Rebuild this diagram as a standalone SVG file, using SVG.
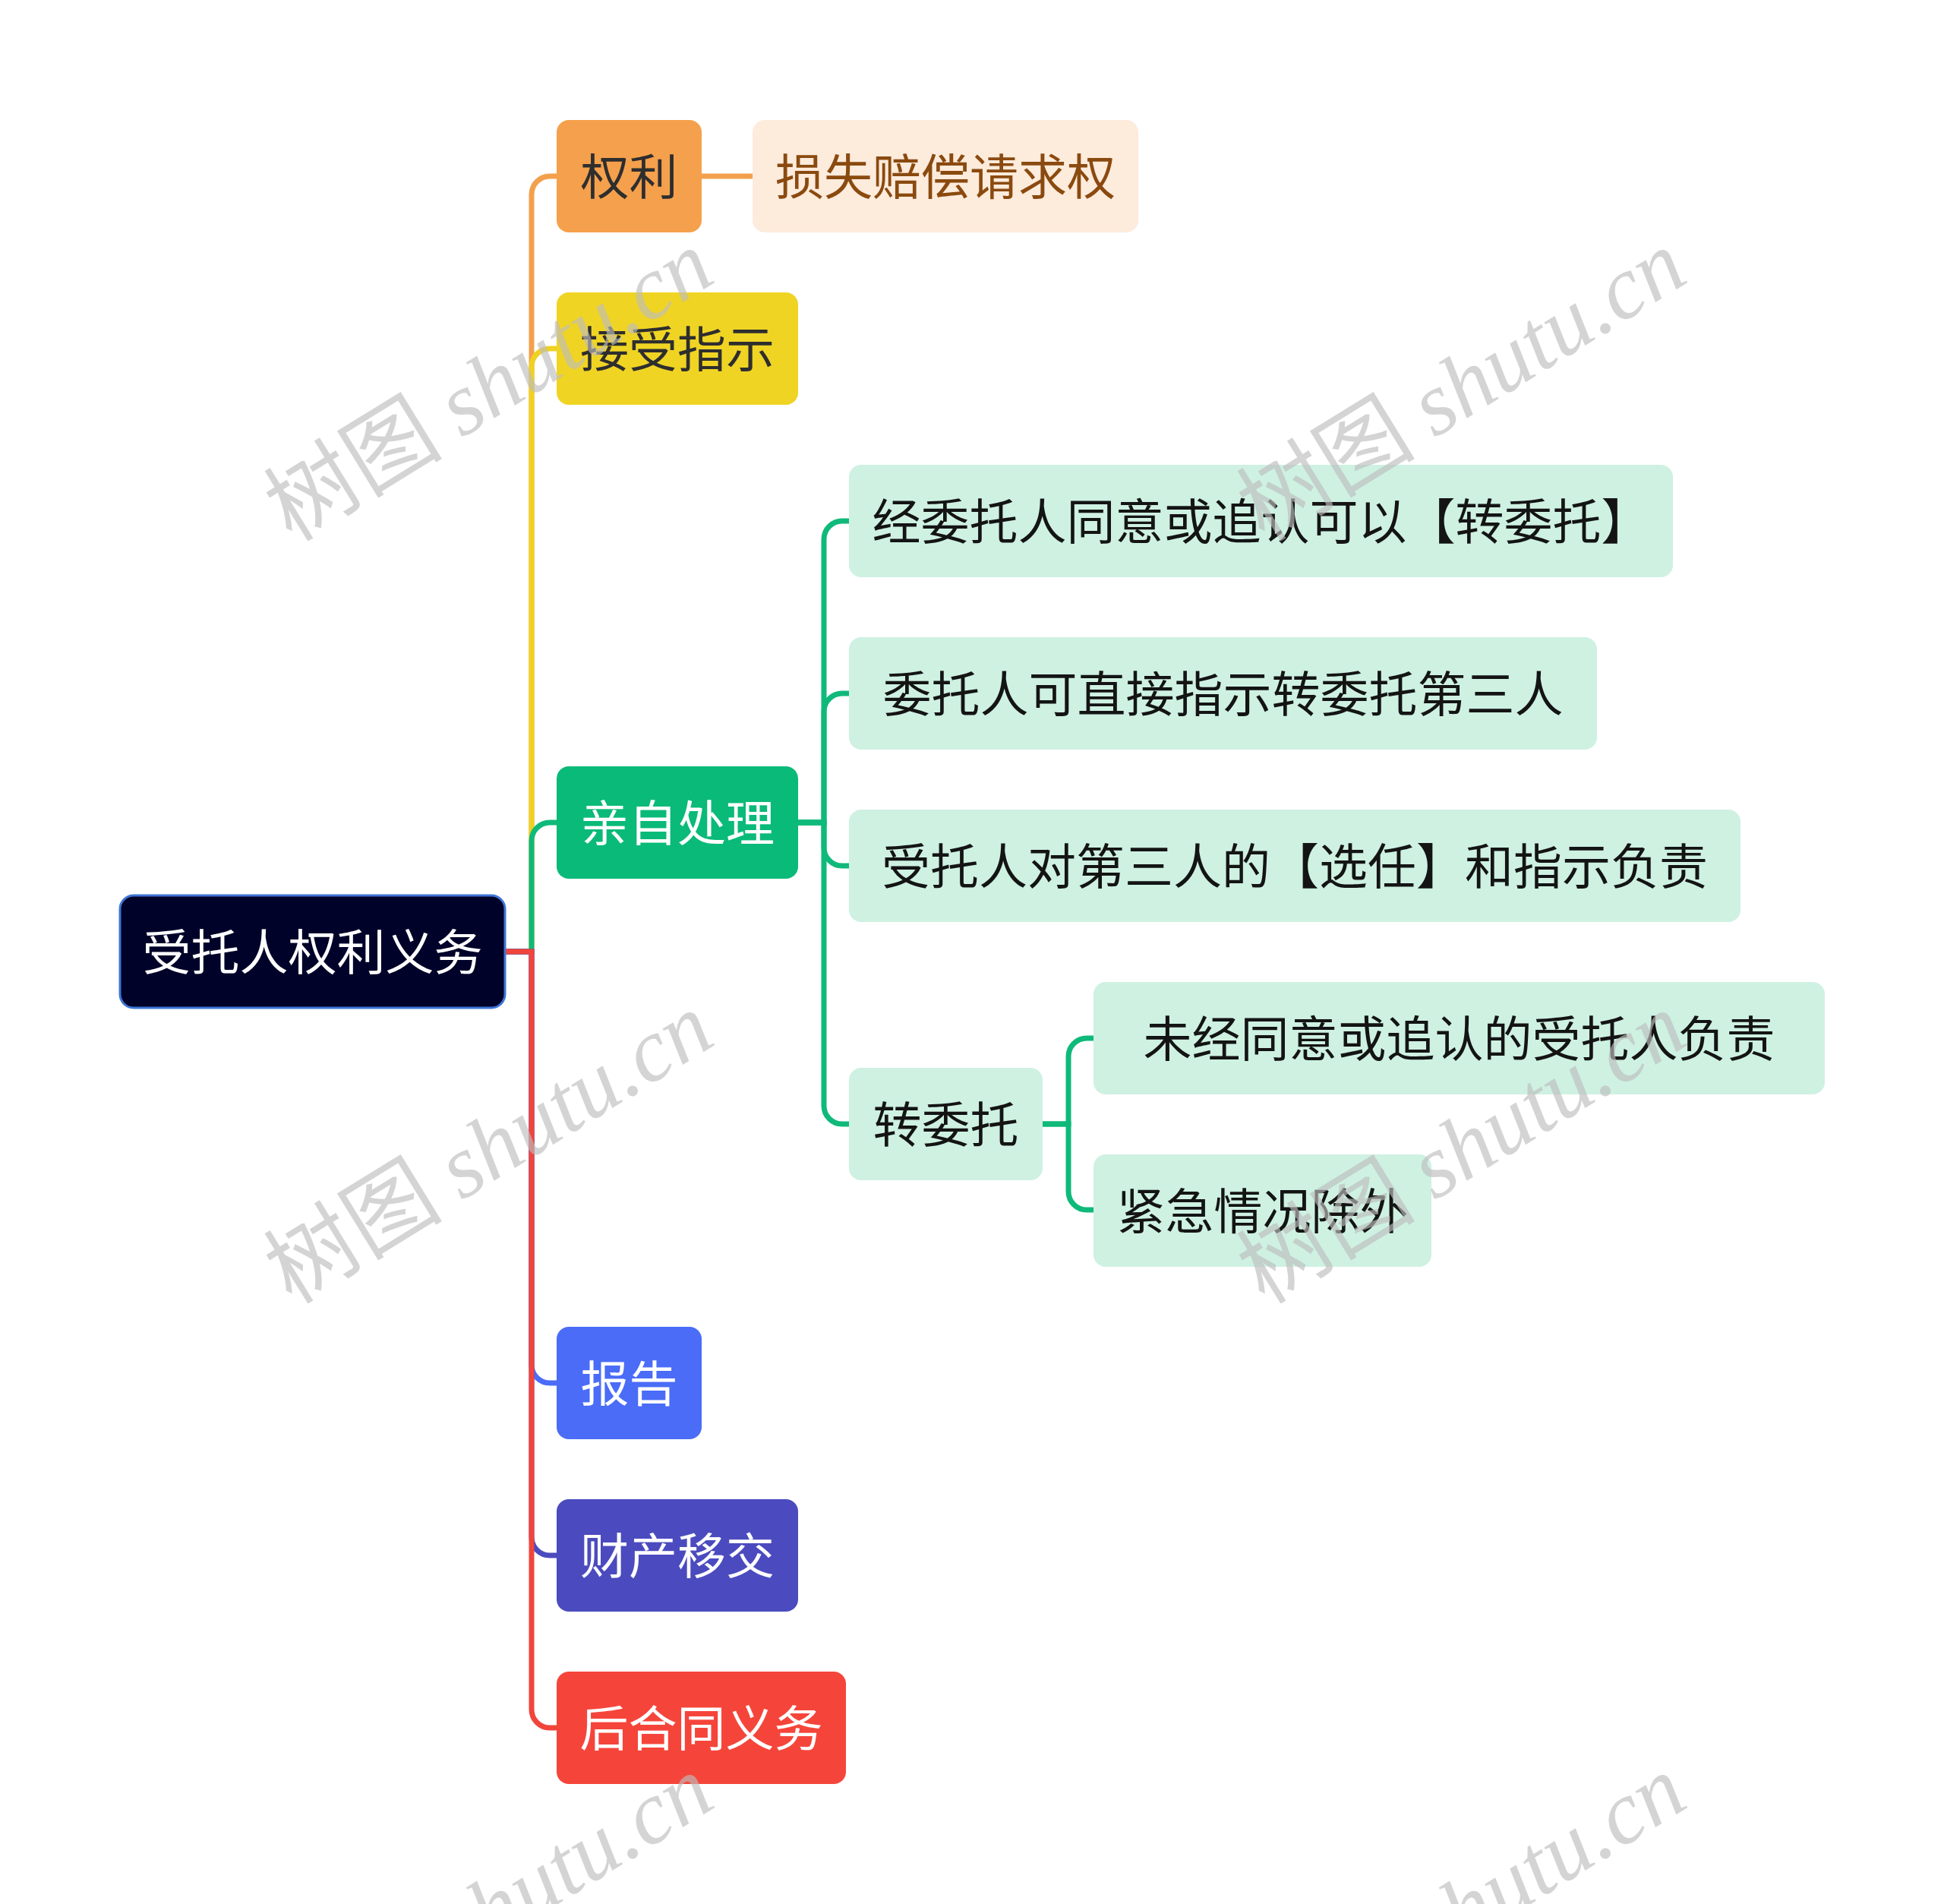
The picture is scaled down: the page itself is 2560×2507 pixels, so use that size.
<svg xmlns="http://www.w3.org/2000/svg" width="2560" height="2507" viewBox="0 0 2560 2507">
<style>
.t{font-family:"Noto Sans CJK SC","Noto Sans",sans-serif;text-anchor:middle}
.l1{font-size:64px}
.l2{font-size:64px;fill:#141414}
.c{fill:none;stroke-width:7;stroke-linecap:butt}
.wm{font-size:118px;fill:#bdbdbd;fill-opacity:0.65}
</style>
<rect width="2560" height="2507" fill="#ffffff"/>
<g id="connectors">
<path class="c" stroke="#f3a04d" d="M665,1253 H700 V256 A24,24 0 0 1 724,232 H733"/>
<path class="c" stroke="#f3a04d" d="M924,232 H991"/>
<path class="c" stroke="#efd123" d="M665,1253 H700 V483 A24,24 0 0 1 724,459 H733"/>
<path class="c" stroke="#0fb97a" d="M665,1253 H700 V1107 A24,24 0 0 1 724,1083 H733"/>
<path class="c" stroke="#4a6cf7" d="M665,1253 H700 V1797 A24,24 0 0 0 724,1821 H733"/>
<path class="c" stroke="#4b4bbf" d="M665,1253 H700 V2024 A24,24 0 0 0 724,2048 H733"/>
<path class="c" stroke="#f1453b" d="M665,1253 H700 V2251 A24,24 0 0 0 724,2275 H733"/>
<path class="c" stroke="#0fb97a" d="M1051,1083 H1085 V710 A24,24 0 0 1 1109,686 H1118"/>
<path class="c" stroke="#0fb97a" d="M1051,1083 H1085 V937 A24,24 0 0 1 1109,913 H1118"/>
<path class="c" stroke="#0fb97a" d="M1051,1083 H1085 V1116 A24,24 0 0 0 1109,1140 H1118"/>
<path class="c" stroke="#0fb97a" d="M1051,1083 H1085 V1456 A24,24 0 0 0 1109,1480 H1118"/>
<path class="c" stroke="#0fb97a" d="M1373,1480 H1407 V1391 A24,24 0 0 1 1431,1367 H1440"/>
<path class="c" stroke="#0fb97a" d="M1373,1480 H1407 V1569 A24,24 0 0 0 1431,1593 H1440"/>
</g>
<g id="root">
<rect x="158" y="1179" width="507" height="148" rx="18" fill="#000229" stroke="#3e75d6" stroke-width="3"/>
<text class="t l1" x="411.5" y="1277" fill="#ffffff">受托人权利义务</text>
</g>
<g id="n-quanli">
<rect x="733" y="158" width="191" height="148" rx="16" fill="#f5a04c"/>
<text class="t l1" x="828.5" y="256" fill="#2e2e2e">权利</text>
</g>
<g id="n-sunshi">
<rect x="991" y="158" width="508" height="148" rx="16" fill="#fdebdc"/>
<text class="t l1" x="1245" y="256" fill="#8a4a0f">损失赔偿请求权</text>
</g>
<g id="n-jieshou">
<rect x="733" y="385" width="318" height="148" rx="16" fill="#f0d424"/>
<text class="t l1" x="892" y="483" fill="#2e2e2e">接受指示</text>
</g>
<g id="n-qinzi">
<rect x="733" y="1009" width="318" height="148" rx="16" fill="#0aba78"/>
<text class="t l1" x="892" y="1107" fill="#ffffff">亲自处理</text>
</g>
<g id="n-jing">
<rect x="1118" y="612" width="1085" height="148" rx="16" fill="#cef1e2"/>
<text class="t l2" x="1660.5" y="710">经委托人同意或追认可以【转委托】</text>
</g>
<g id="n-weituo">
<rect x="1118" y="839" width="985" height="148" rx="16" fill="#cef1e2"/>
<text class="t l2" x="1610.5" y="937">委托人可直接指示转委托第三人</text>
</g>
<g id="n-shoutuo">
<rect x="1118" y="1066" width="1174" height="148" rx="16" fill="#cef1e2"/>
<text class="t l2" x="1705" y="1164">受托人对第三人的【选任】和指示负责</text>
</g>
<g id="n-zhuan">
<rect x="1118" y="1406" width="255" height="148" rx="16" fill="#cef1e2"/>
<text class="t l2" x="1245.5" y="1504">转委托</text>
</g>
<g id="n-weijing">
<rect x="1440" y="1293" width="963" height="148" rx="16" fill="#cef1e2"/>
<text class="t l2" x="1921.5" y="1391">未经同意或追认的受托人负责</text>
</g>
<g id="n-jinji">
<rect x="1440" y="1520" width="445" height="148" rx="16" fill="#cef1e2"/>
<text class="t l2" x="1662.5" y="1618">紧急情况除外</text>
</g>
<g id="n-baogao">
<rect x="733" y="1747" width="191" height="148" rx="16" fill="#4a6cf7"/>
<text class="t l1" x="828.5" y="1845" fill="#ffffff">报告</text>
</g>
<g id="n-caichan">
<rect x="733" y="1974" width="318" height="148" rx="16" fill="#4b4bbf"/>
<text class="t l1" x="892" y="2072" fill="#ffffff">财产移交</text>
</g>
<g id="n-hou">
<rect x="733" y="2201" width="381" height="148" rx="16" fill="#f5453b"/>
<text class="t l1" x="923.5" y="2299" fill="#ffffff">后合同义务</text>
</g>
<g id="watermarks">
<text class="wm" transform="translate(665,542) rotate(-31.6)" text-anchor="middle"><tspan font-family="Noto Sans CJK SC,sans-serif">树图 </tspan><tspan font-family="Liberation Serif,serif" font-style="italic">shutu.cn</tspan></text>
<text class="wm" transform="translate(1946,542) rotate(-31.6)" text-anchor="middle"><tspan font-family="Noto Sans CJK SC,sans-serif">树图 </tspan><tspan font-family="Liberation Serif,serif" font-style="italic">shutu.cn</tspan></text>
<text class="wm" transform="translate(665,1546) rotate(-31.6)" text-anchor="middle"><tspan font-family="Noto Sans CJK SC,sans-serif">树图 </tspan><tspan font-family="Liberation Serif,serif" font-style="italic">shutu.cn</tspan></text>
<text class="wm" transform="translate(1946,1546) rotate(-31.6)" text-anchor="middle"><tspan font-family="Noto Sans CJK SC,sans-serif">树图 </tspan><tspan font-family="Liberation Serif,serif" font-style="italic">shutu.cn</tspan></text>
<text class="wm" transform="translate(665,2550) rotate(-31.6)" text-anchor="middle"><tspan font-family="Noto Sans CJK SC,sans-serif">树图 </tspan><tspan font-family="Liberation Serif,serif" font-style="italic">shutu.cn</tspan></text>
<text class="wm" transform="translate(1946,2550) rotate(-31.6)" text-anchor="middle"><tspan font-family="Noto Sans CJK SC,sans-serif">树图 </tspan><tspan font-family="Liberation Serif,serif" font-style="italic">shutu.cn</tspan></text>
</g>
</svg>
